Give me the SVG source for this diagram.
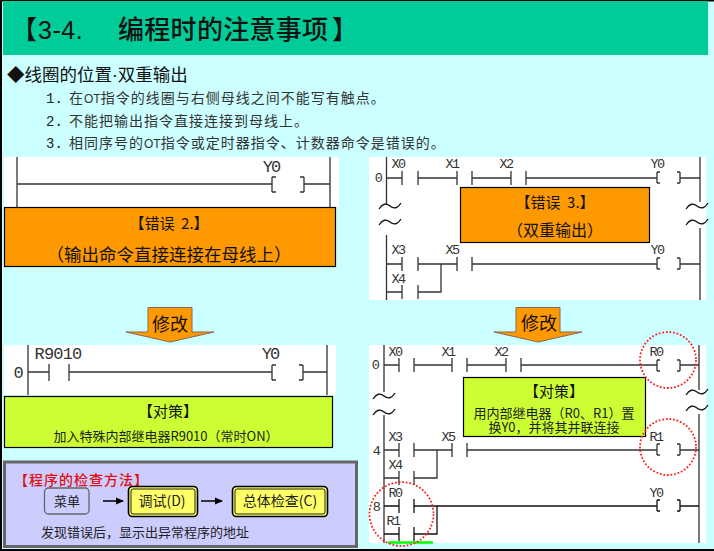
<svg xmlns="http://www.w3.org/2000/svg" width="714" height="551" viewBox="0 0 714 551">
<style>
text{font-family:"Noto Sans CJK SC","Liberation Sans",sans-serif;fill:#111}
.t{font-size:26px;font-weight:500}
.tn{font-family:"Liberation Sans",sans-serif;font-size:25px;font-weight:400;letter-spacing:.5px}
.h{font-size:17.500px}
.l{font-size:14px;letter-spacing:1px;fill:#333}
.ln{font-family:"Liberation Sans",sans-serif;font-size:12px;letter-spacing:0}
.d{font-family:"Liberation Mono",monospace;font-size:14px;fill:#222}
.b{font-size:15px;text-anchor:middle}
.s{font-size:13px;text-anchor:middle;fill:#222}
.m{font-size:17.500px;text-anchor:middle}
.a{font-size:18px;text-anchor:middle}
.n{font-family:"Liberation Mono",monospace;font-size:13.500px;letter-spacing:-1.600px;fill:#333;text-anchor:middle}
.N{font-family:"Liberation Mono",monospace;font-size:17px;letter-spacing:-2px;fill:#333;text-anchor:middle}
.w{fill:#fff}
.o{fill:#f90;stroke:#000;stroke-width:1.2}
.g{fill:#cf3;stroke:#000;stroke-width:1.2}
.r{fill:none;stroke:#333;stroke-width:1.3}
.rb{fill:none;stroke:#111;stroke-width:1.3}
.f{fill:#f90;stroke:#865}
.c{fill:none;stroke:#f22;stroke-width:1.800;stroke-dasharray:1.800 1.800}
.y{fill:#ff6;stroke:#000;stroke-width:1.600}
.i{fill:none;stroke:#222;stroke-width:1}
</style>
<defs>
<marker id="a" viewBox="0 0 8 8" refX="7" refY="4" markerWidth="8" markerHeight="8" markerUnits="userSpaceOnUse" orient="auto"><path d="M0 .5L8 4L0 7.500Z" fill="#000"/></marker>
</defs>
<rect width="714" height="551" fill="#cff"/>
<path d="M0 .5H714M1 0V551M0 550H714" fill="none" stroke="#000" stroke-width="2"/>
<g id="header"><rect x="3" y="1" width="705" height="54" fill="#0c9"/>
<text class="t" x="11" y="39">【</text><text class="tn" x="38" y="39">3-4.</text><text class="t" x="118" y="39" style="letter-spacing:.3px">编程时的注意事项</text><text class="t" x="332" y="39">】</text></g>
<g id="intro">
<text class="h" x="7" y="81">◆线圈的位置<tspan font-family="Liberation Sans">·</tspan>双重输出</text>
<text class="d" x="46" y="103">1.</text><text class="l" x="69" y="103">在<tspan class="ln">OT</tspan>指令的线圈与右侧母线之间不能写有触点。</text>
<text class="d" x="46" y="126">2.</text><text class="l" x="69" y="126">不能把输出指令直接连接到母线上。</text>
<text class="d" x="46" y="148">3.</text><text class="l" x="69" y="148">相同序号的<tspan class="ln">OT</tspan>指令或定时器指令、计数器命令是错误的。</text>
</g>
<g id="panel-a"><rect class="w" x="4" y="157" width="335" height="50"/>
<path class="r" d="M17 157V207M330 157V207M17 184H272M272 177V192M272 177H276M272 192H276M304 177V192M304 177H300M304 192H300M304 184H330"/>
<text class="N" x="271" y="172">Y0</text></g>
<g id="err2"><rect class="o" x="4.500" y="207.500" width="331" height="59"/>
<text class="b" x="169" y="229">【错误&#160;&#160;2.】</text><text class="m" x="169" y="261">（输出命令直接连接在母线上）</text></g>
<g id="fix1"><path class="f" d="M148 307.500H192V332H214L170 342L126 332H148Z"/><text class="a" x="170" y="331">修改</text></g>
<g id="panel-b"><rect class="w" x="369" y="157" width="337" height="143"/>
<path class="r" d="M386.500 157V205M386.500 235V300M700 157V202M700 228V300M386 178H402M402 171V185M418 171V185M418 178H457M457 171V185M472 171V185M472 178H511M511 171V185M526 171V185M526 178H657M657 172V183M657 172H660M657 183H660M680 172V183M680 172H677M680 183H677M680 178H700"/>
<path class="r" d="M386 264H402M402 257V271M418 257V271M418 264H457M457 257V271M472 257V271M472 264H657M657 258V269M657 258H660M657 269H660M680 258V269M680 258H677M680 269H677M680 264H700M386 292H402M402 285V299M418 285V299M418 292H441V264"/>
<path class="rb" d="M379 209Q384 201 390 206T401 203M379 225Q384 217 390 222T401 219M686 209Q691 201 697 206T708 203M686 225Q691 217 697 222T708 219"/>
<text class="n" x="398" y="168">X0</text><text class="n" x="452" y="168">X1</text><text class="n" x="506" y="168">X2</text><text class="n" x="657" y="168">Y0</text>
<text class="n" x="378" y="182">0</text><text class="n" x="398" y="254">X3</text><text class="n" x="452" y="254">X5</text><text class="n" x="657" y="254">Y0</text><text class="n" x="398" y="283">X4</text></g>
<g id="err3"><rect class="o" x="460.500" y="187.500" width="189" height="55"/>
<text class="b" x="555" y="208">【错误&#160;&#160;3.】</text><text class="b" x="555" y="236" style="font-size:16px">（双重输出）</text></g>
<g id="fix2"><path class="f" d="M516 307.500H560V332H582L538 342L494 332H516Z"/><text class="a" x="539" y="330">修改</text></g>
<g id="panel-c"><rect class="w" x="4" y="345" width="332" height="50"/>
<path class="r" d="M28 345V395M327 345V395M28 372H49M49 364V381M69 364V381M69 372H272M272 365V380M272 365H276M272 380H276M303 365V380M303 365H299M303 380H299M303 372H327"/>
<text class="N" x="58" y="359" style="letter-spacing:-.8px">R9010</text><text class="N" x="270" y="359">Y0</text><text class="N" x="17.500" y="378">0</text></g>
<g id="fix-a"><rect class="g" x="4.500" y="396.500" width="328" height="51"/>
<text class="b" x="168" y="417">【对策】</text><text class="s" x="166" y="441">加入特殊内部继电器R9010（常时ON）</text></g>
<g id="check"><rect x="4.500" y="462" width="352" height="84.500" fill="#ccf" stroke="#666" stroke-width="3"/>
<text x="14" y="485" style="font-size:14px;fill:#e01010;letter-spacing:1px;font-weight:500">【程序的检查方法】</text>
<g id="menu"><rect x="44.500" y="488" width="44.500" height="26" rx="4" fill="#ccf" stroke="#666" stroke-width="1.300"/><text class="s" x="67" y="506">菜单</text></g>
<g id="debug"><rect class="y" x="128.500" y="486.500" width="69" height="30" rx="4"/><rect class="i" x="131" y="489" width="64" height="25" rx="2"/><text class="s" x="162" y="506" style="font-size:14px">调试(D)</text></g>
<g id="total"><rect class="y" x="232.500" y="486.500" width="95" height="30" rx="4"/><rect class="i" x="235" y="489" width="90" height="25" rx="2"/><text class="s" x="280" y="506" style="font-size:14px">总体检查(C)</text></g>
<path d="M103 501H123" stroke="#000" stroke-width="1.500" marker-end="url(#a)"/><path d="M201 501H222" stroke="#000" stroke-width="1.500" marker-end="url(#a)"/>
<text x="41" y="537" style="font-size:13px;fill:#222">发现错误后，显示出异常程序的地址</text></g>
<g id="panel-d"><rect class="w" x="369" y="345" width="337" height="198"/>
<path class="r" d="M384 345V392M384 415V543M699 345V390M699 414V543M384 365H399M399 358V372M414 358V372M414 365H452M452 358V372M467 358V372M467 365H506M506 358V372M521 358V372M521 365H657M657 360V371M657 360H660M657 371H660M680 360V371M680 360H677M680 371H677M680 365H699"/>
<path class="r" d="M384 450H399M399 443V457M414 443V457M414 450H452M452 443V457M467 443V457M467 450H657M657 444V455M657 444H660M657 455H660M680 444V455M680 444H677M680 455H677M680 450H699M384 478H399M399 471V485M414 471V485M414 478H437V450"/>
<path class="rb" d="M384 506H399M399 499V513M414 499V513M414 506H657M657 500V511M657 500H660M657 511H660M680 500V511M680 500H677M680 511H677M680 506H699M384 534H399M399 527V541M414 527V541M414 534H437V506"/>
<path class="rb" d="M373 399Q378 391 384 396T395 393M373 415Q378 407 384 412T395 409M686 395Q691 387 697 392T708 389M686 411Q691 403 697 408T708 405"/>
<text class="n" x="395" y="356">X0</text><text class="n" x="448" y="356">X1</text><text class="n" x="501" y="356">X2</text><text class="n" x="656" y="356">R0</text>
<text class="n" x="375" y="369">0</text><text class="n" x="395" y="441">X3</text><text class="n" x="448" y="441">X5</text><text class="n" x="656" y="441">R1</text><text class="n" x="376" y="455">4</text><text class="n" x="395" y="469">X4</text><text class="n" x="395" y="497">R0</text><text class="n" x="656" y="497">Y0</text><text class="n" x="376" y="511">8</text><text class="n" x="393" y="525">R1</text>
<path d="M388 542.500H433" stroke="#0f0" stroke-width="2.500"/></g>
<g id="fix-b"><rect class="g" x="463.500" y="377.500" width="182" height="59"/>
<text class="b" x="554" y="397">【对策】</text><text class="s" x="554" y="418">用内部继电器（R0、R1）置</text><text class="s" x="554" y="432">换Y0，并将其并联连接</text></g>
<g id="circles"><circle class="c" cx="668" cy="360" r="28"/><circle class="c" cx="668" cy="447" r="28"/><circle class="c" cx="401.500" cy="514" r="32"/></g>
</svg>
